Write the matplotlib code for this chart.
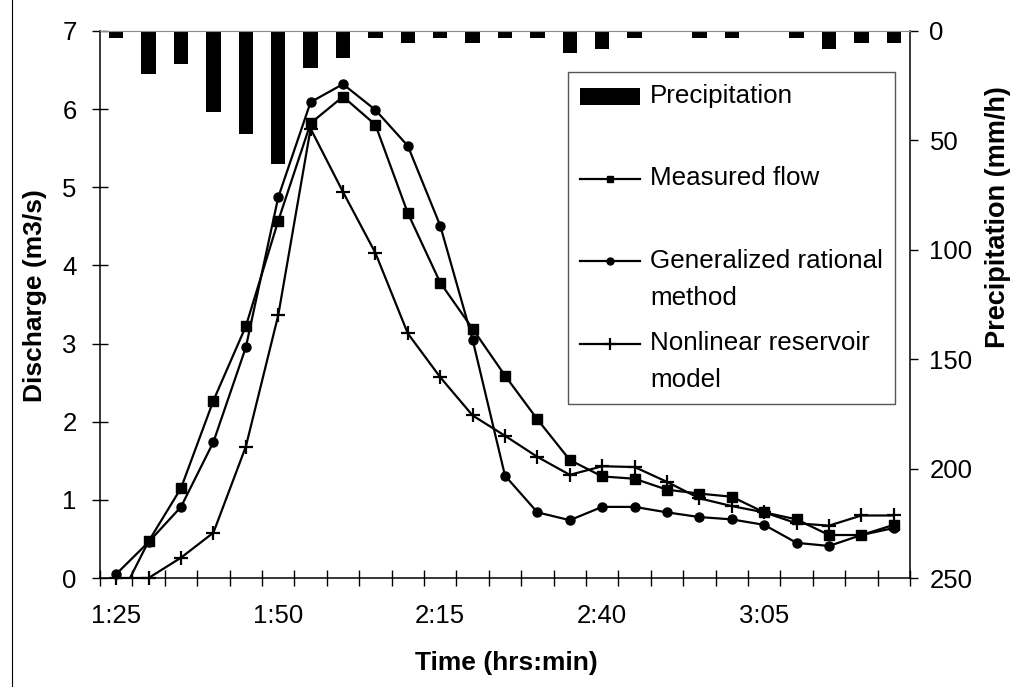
import numpy as np
import matplotlib
matplotlib.use("Agg")
import matplotlib.pyplot as plt
from matplotlib.legend_handler import HandlerLine2D, HandlerPatch
from matplotlib.transforms import Affine2D
from matplotlib.lines import Line2D

plt.rcParams['font.family'] = ['Liberation Sans', 'DejaVu Sans']

# ---------------- data ----------------
times = ["1:25", "1:30", "1:35", "1:40", "1:45", "1:50", "1:55", "2:00", "2:05",
         "2:10", "2:15", "2:20", "2:25", "2:30", "2:35", "2:40", "2:45", "2:50",
         "2:55", "3:00", "3:05", "3:10", "3:15", "3:20", "3:25"]
precipitation = [3, 19.5, 15, 37, 47, 61, 17, 12.5, 3, 5.5, 3, 5.5, 3, 3,
                 10, 8, 3, 0, 3, 3, 0, 3, 8, 5.5, 5.5]
measured_flow = [-0.35, 0.47, 1.15, 2.27, 3.22, 4.57, 5.82, 6.16, 5.80, 4.67,
                 3.78, 3.19, 2.59, 2.03, 1.51, 1.30, 1.27, 1.13, 1.08, 1.04,
                 0.84, 0.75, 0.55, 0.55, 0.68]
generalized_rational = [0.05, 0.46, 0.91, 1.74, 2.95, 4.87, 6.09, 6.32, 5.99,
                        5.53, 4.51, 3.05, 1.31, 0.84, 0.74, 0.91, 0.91, 0.84,
                        0.78, 0.75, 0.68, 0.45, 0.41, 0.55, 0.64]
nonlinear_reservoir = [0.0, 0.0, 0.26, 0.58, 1.68, 3.36, 5.75, 4.94, 4.16, 3.13,
                       2.57, 2.08, 1.82, 1.55, 1.32, 1.43, 1.42, 1.23, 1.02,
                       0.92, 0.84, 0.70, 0.67, 0.80, 0.80]
label_every = 5
discharge_ticks = [0, 1, 2, 3, 4, 5, 6, 7]
precip_ticks = [0, 50, 100, 150, 200, 250]
legend_labels = ["Precipitation\n ", "Measured flow\n ",
                 "Generalized rational\nmethod", "Nonlinear reservoir\nmodel"]

W, H = 1015, 687
fig = plt.figure(figsize=(W / 100, H / 100), dpi=100)
ax = fig.add_axes([100 / W, 1 - 578 / H, 810 / W, 547 / H])
ax2 = ax.twinx()

x = np.arange(len(times))

# precipitation bars hanging from the top (inverted secondary axis)
bars = ax2.bar(x, precipitation, width=0.44, color='black', linewidth=0)
ax2.set_ylim(max(precip_ticks), 0)
ax2.set_yticks(precip_ticks)

ax.set_zorder(ax2.get_zorder() + 1)
ax.patch.set_visible(False)

lm, = ax.plot(x, measured_flow, '-', color='black', lw=1.6, marker='s', ms=6.5,
              clip_on=True)
lg, = ax.plot(x, generalized_rational, '-', color='black', lw=1.6, marker='o',
              ms=6.5, clip_on=False)
ln, = ax.plot(x, nonlinear_reservoir, '-', color='black', lw=1.6, marker='+',
              ms=10, mew=1.6, clip_on=False)

ax.set_xlim(-0.5, len(times) - 0.5)
ax.set_ylim(min(discharge_ticks), max(discharge_ticks))
ax.set_yticks(discharge_ticks)

# category boundaries as ticks, labels between them
ax.set_xticks(np.arange(-0.5, len(times), 1.0))
ax.set_xticklabels([])
ax.set_xticks(x[::label_every], minor=True)
ax.set_xticklabels([times[i] for i in x[::label_every]], minor=True)

ax.tick_params(axis='x', which='major', direction='inout', length=11, width=1,
               color='black')
ax.tick_params(axis='x', which='minor', length=0, pad=19, labelsize=18.5)
ax.tick_params(axis='y', direction='inout', length=11.5, width=1, pad=11,
               labelsize=18.5)
ax2.tick_params(axis='y', direction='out', length=6, width=1, pad=8,
                labelsize=18.5)

for s in ['left', 'bottom', 'top']:
    ax2.spines[s].set_visible(False)
ax.spines['right'].set_visible(False)
ax.spines['top'].set_color('#8c8c8c')
for s in ['left', 'bottom']:
    ax.spines[s].set_linewidth(1.1)
ax2.spines['right'].set_linewidth(1.1)

ax.set_ylabel("Discharge (m3/s)", fontsize=19, fontweight='bold')
ax.yaxis.set_label_coords(-0.066, 0.517)
ax.set_xlabel("Time (hrs:min)", fontsize=19, fontweight='bold')
ax.xaxis.set_label_coords(0.502, -0.133)
ax2.set_ylabel("Precipitation (mm/h)", fontsize=19.5, fontweight='bold')
ax2.yaxis.set_label_coords(1.092, 0.66)


# legend: handles aligned with first text line (Excel style)
class ShiftLine(HandlerLine2D):
    def __init__(self, dy_em, **kw):
        super().__init__(**kw)
        self.dy_em = dy_em

    def create_artists(self, legend, orig_handle, xdescent, ydescent, width,
                       height, fontsize, trans):
        arts = super().create_artists(legend, orig_handle, xdescent, ydescent,
                                      width, height, fontsize, trans)
        off = Affine2D().translate(0, self.dy_em * fontsize)
        for a in arts:
            a.set_transform(off + trans)
        return arts


class ShiftPatch(HandlerPatch):
    def __init__(self, dy_em, **kw):
        super().__init__(**kw)
        self.dy_em = dy_em

    def create_artists(self, legend, orig_handle, xdescent, ydescent, width,
                       height, fontsize, trans):
        arts = super().create_artists(legend, orig_handle, xdescent, ydescent,
                                      width, height, fontsize, trans)
        off = Affine2D().translate(0, self.dy_em * fontsize)
        for a in arts:
            a.set_transform(off + trans)
        return arts


ls = 1.68
dy = 0.5 * (0.21 + 0.716 * ls)
leg_lm = Line2D([], [], color='black', lw=1.6, marker='s', ms=5)
leg_lg = Line2D([], [], color='black', lw=1.6, marker='o', ms=5)
leg_ln = Line2D([], [], color='black', lw=1.6, marker='+', ms=8, mew=1.6)
handles = [bars.patches[0], leg_lm, leg_lg, leg_ln]
hmap = {bars.patches[0]: ShiftPatch(dy), leg_lm: ShiftLine(dy),
        leg_lg: ShiftLine(dy), leg_ln: ShiftLine(dy)}
leg = ax.legend(handles, legend_labels, loc='upper left',
                bbox_to_anchor=(568 / W, 1 - 72 / H), bbox_transform=fig.transFigure,
                borderaxespad=0, fontsize=18.7, frameon=True, fancybox=False,
                edgecolor='#555555', framealpha=1, handlelength=2.3,
                handleheight=0.65, handletextpad=0.4, labelspacing=0.82,
                borderpad=0.47, handler_map=hmap)
leg.get_frame().set_linewidth(1.0)
for t in leg.get_texts():
    t.set_linespacing(ls)

# outer chart-area border line at left
fig.add_artist(Line2D([12 / W, 12 / W], [0, 1], transform=fig.transFigure,
                      color='black', lw=0.8))

fig.savefig("out.png", dpi=100)
